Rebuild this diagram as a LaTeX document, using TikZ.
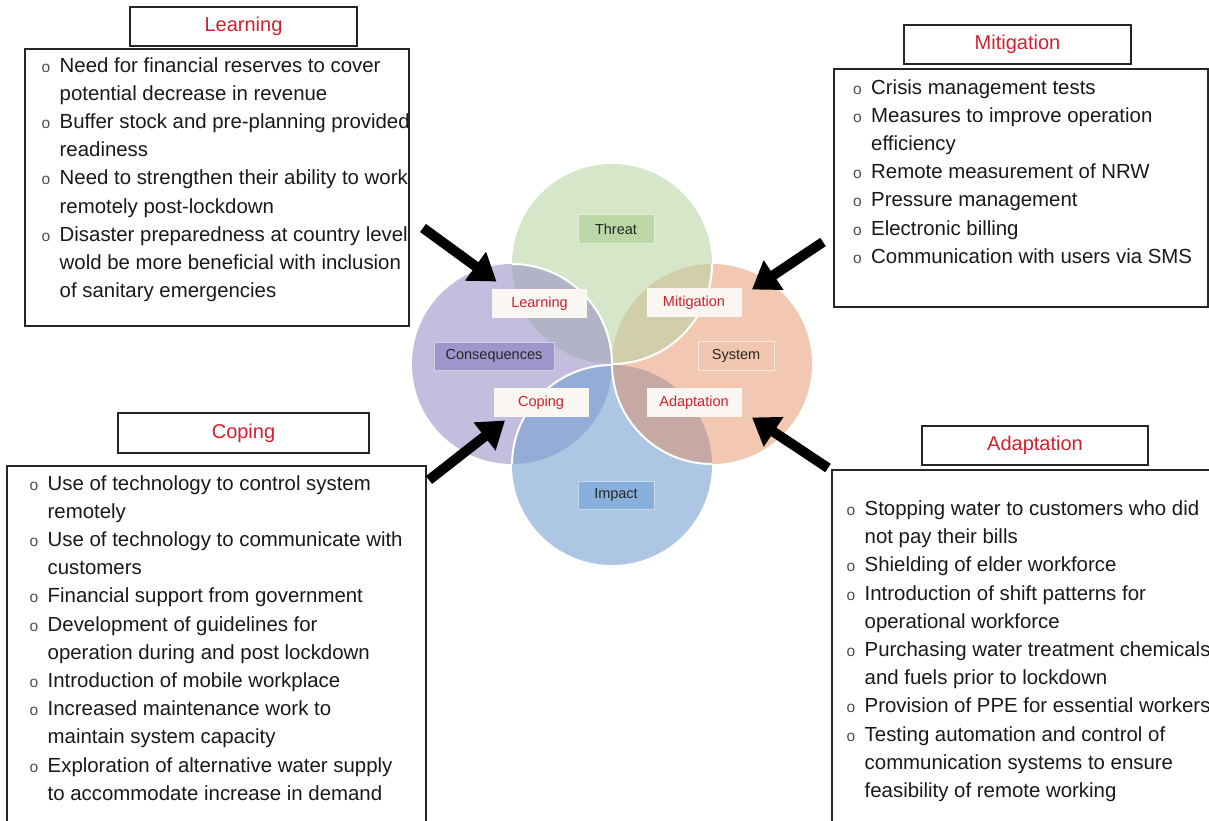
\documentclass[tikz,border=0pt]{standalone}
\usepackage{fontspec}
\setmainfont{Liberation Sans}
\usetikzlibrary{positioning,arrows.meta}

\definecolor{lblred}{HTML}{D0202E}
\definecolor{thrcol}{HTML}{BBD5A3}
\definecolor{concol}{HTML}{9B93C8}
\definecolor{syscol}{HTML}{EBA37F}
\definecolor{impcol}{HTML}{75A0D2}
\definecolor{thrbox}{HTML}{BCD7A6}
\definecolor{conbox}{HTML}{9D96CB}
\definecolor{sysbox}{HTML}{F0C6B0}
\definecolor{impbox}{HTML}{88B0DD}
\definecolor{redbox}{HTML}{FAF7F3}

\newcommand{\bul}{\makebox[18pt][l]{\fontsize{15.5}{15}\selectfont\color{black!70}o}}
\newcommand{\ind}{\hspace*{18pt}}

\begin{document}
\begin{tikzpicture}[x=1pt,y=-1pt,
                    bigarrow/.style={line width=10pt,-{Triangle[width=34pt,length=26pt]}},
                    venn/.style={circle,minimum size=200pt,inner sep=0pt,fill opacity=.6},
                    seam/.style={draw=white,line width=2pt}]
  \tikzstyle{lbl}=[font=\fontsize{14.5}{17}\selectfont,text=black!85,minimum height=29pt,inner sep=2pt,line width=1pt]
  \tikzstyle{redlbl}=[lbl,fill=redbox,text=lblred,minimum width=95pt]
  \tikzstyle{headbox}=[draw=black!85,line width=1.3pt,font=\fontsize{20}{24}\selectfont,text=lblred,inner sep=0pt,minimum height=39pt]
  \tikzstyle{frame}=[draw=black!85,line width=1.3pt,inner sep=0pt]
  \tikzstyle{listtext}=[font=\fontsize{20.4}{28.2}\selectfont,text=black!90,align=left,inner sep=0pt,anchor=base west]

  \useasboundingbox (0,0) rectangle (1209,821);

  % the four circles
  \node[venn,fill=syscol] (sys) at (712,364) {};
  \node[venn,fill=thrcol] (thr) at (612,264) {};
  \node[venn,fill=concol] (con) at (512,364) {};
  \node[venn,fill=impcol] (imp) at (612,465) {};
  \begin{scope}
    \clip (612,465) circle[radius=100pt];
    \fill[syscol,opacity=.45] (712,364) circle[radius=100pt];
  \end{scope}

  \begin{scope}
    \clip (612,264) circle[radius=100pt];
    \draw[seam] (512,364) circle[radius=100pt];
  \end{scope}
  \begin{scope}
    \clip (712,364) circle[radius=100pt];
    \draw[seam] (612,264) circle[radius=100pt];
  \end{scope}
  \begin{scope}
    \clip (612,465) circle[radius=100pt];
    \draw[seam] (712,364) circle[radius=100pt];
  \end{scope}
  \begin{scope}
    \clip (512,364) circle[radius=100pt];
    \draw[seam] (612,465) circle[radius=100pt];
  \end{scope}

  \node[lbl,fill=thrbox,draw=thrcol!40,minimum width=76pt]  (threat) at (616,229)   {Threat};
  \node[lbl,fill=conbox,draw=concol!45,minimum width=120pt,minimum height=28pt] (conseq) at (494,356) {Consequences};
  \node[lbl,fill=sysbox,draw=syscol!25,minimum width=76pt]  (system) at (736,355.5) {System};
  \node[lbl,fill=impbox,draw=impcol!40,minimum width=76pt,minimum height=28pt] (impact) at (616,495) {Impact};

  \node[redlbl] (lrn) at (539.5,303.5) {Learning};
  \node[redlbl] (mit) at (694,302.5)   {Mitigation};
  \node[redlbl] (cop) at (541,402.5)   {Coping};
  \node[redlbl] (adp) at (694,402.5)   {Adaptation};

  % list boxes (text placed by its last baseline)
  \node[headbox,minimum width=227pt] (lrnhead) at (243.5,26.5) {Learning};
  \node[frame,minimum width=384pt,minimum height=277pt] (lrnbox) at (217,187.5) {};
  \node[listtext] (lrntxt) at (41.5,297.6) {\bul Need for financial reserves to cover\\
    \ind potential decrease in revenue\\
    \bul Buffer stock and pre-planning provided\\
    \ind readiness\\
    \bul Need to strengthen their ability to work\\
    \ind remotely post-lockdown\\
    \bul Disaster preparedness at country level\\
    \ind wold be more beneficial with inclusion\\
    \ind of sanitary emergencies};

  \node[headbox,minimum width=227pt] (mithead) at (1017.5,44.5) {Mitigation};
  \node[frame,minimum width=374pt,minimum height=238pt] (mitbox) at (1021,188) {};
  \node[listtext] (mittxt) at (853,263.2) {\bul Crisis management tests\\
    \bul Measures to improve operation\\
    \ind efficiency\\
    \bul Remote measurement of NRW\\
    \bul Pressure management\\
    \bul Electronic billing\\
    \bul Communication with users via SMS};

  \node[headbox,minimum width=251pt,minimum height=40pt] (cophead) at (243.5,433) {Coping};
  \node[frame,minimum width=419pt,minimum height=364pt] (copbox) at (216.5,648) {};
  \node[listtext] (coptxt) at (29.5,800.2) {\bul Use of technology to control system\\
    \ind remotely\\
    \bul Use of technology to communicate with\\
    \ind customers\\
    \bul Financial support from government\\
    \bul Development of guidelines for\\
    \ind operation during and post lockdown\\
    \bul Introduction of mobile workplace\\
    \bul Increased maintenance work to\\
    \ind maintain system capacity\\
    \bul Exploration of alternative water supply\\
    \ind to accommodate increase in demand};

  \node[headbox,minimum width=226pt] (adphead) at (1035,445.5) {Adaptation};
  \node[frame,minimum width=378pt,minimum height=360pt] (adpbox) at (1021,650) {};
  \node[listtext] (adptxt) at (846.5,797.5) {\bul Stopping water to customers who did\\
    \ind not pay their bills\\
    \bul Shielding of elder workforce\\
    \bul Introduction of shift patterns for\\
    \ind operational workforce\\
    \bul Purchasing water treatment chemicals\\
    \ind and fuels prior to lockdown\\
    \bul Provision of PPE for essential workers\\
    \bul Testing automation and control of\\
    \ind communication systems to ensure\\
    \ind feasibility of remote working};

  % arrows into the circles
  \coordinate (lrntail) at (423,228);
  \coordinate (mittail) at (823,242);
  \coordinate (coptail) at (429,480);
  \coordinate (adptail) at (828,468);

  \draw[bigarrow] (lrntail) -- ([xshift=5pt,yshift=7pt]lrn.north west);
  \draw[bigarrow] (mittail) -- ([xshift=10pt,yshift=-2pt]mit.north east);
  \draw[bigarrow] (coptail) -- ([xshift=12pt,yshift=-3pt]cop.south west);
  \draw[bigarrow] (adptail) -- ([xshift=10pt]adp.south east);

\end{tikzpicture}
\end{document}
